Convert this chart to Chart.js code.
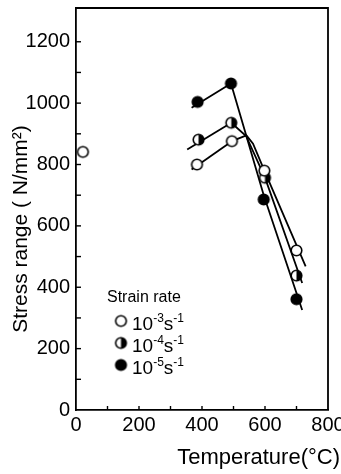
<!DOCTYPE html>
<html><head><meta charset="utf-8">
<script src="https://cdn.jsdelivr.net/npm/chart.js@4/dist/chart.umd.min.js"></script>
<style>html,body{margin:0;padding:0;background:#fff}</style>
</head><body>
<canvas id="c" width="341" height="474"></canvas>
<script>
// ---- data ----
const xTickValues = [0, 200, 400, 600, 800];
const yTickValues = [0, 200, 400, 600, 800, 1000, 1200];
const minorX = [100, 300, 500, 700];
const minorY = [100, 300, 500, 700, 900, 1100];

const seriesLabels = ['10-3', '10-4', '10-5'];

// 10^-3 s^-1 (open circles)
const tempOpen = [22, 384, 495, 598, 700];
const stressOpen = [841, 800, 876, 780, 520];
// 10^-4 s^-1 (half filled)
const tempHalf = [389, 493, 600, 700];
const stressHalf = [881, 936, 757, 438];
// 10^-5 s^-1 (filled)
const tempFilled = [386, 492, 596, 700];
const stressFilled = [1004, 1064, 686, 361];

// fitted lines
const fitOpenRiseT = [367, 495];
const fitOpenRiseS = [784, 876];
const fitOpenFallT = [495, 541, 562, 598, 729];
const fitOpenFallS = [876, 895, 868, 780, 468];
const fitHalfRiseT = [353, 493];
const fitHalfRiseS = [849, 936];
const fitHalfFallT = [493, 540, 600, 718];
const fitHalfFallS = [936, 893, 757, 414];
const fitFilledRiseT = [367, 492];
const fitFilledRiseS = [985, 1064];
const fitFilledFallT = [492, 596, 718];
const fitFilledFallS = [1064, 700, 326];

const pts = (xs, ys) => xs.map((x, i) => ({x: x, y: ys[i]}));

const FONT = '"Liberation Sans", Arial, sans-serif';

function makeMarker(kind, r, lw) {
  const size = Math.ceil(2 * r + lw + 2);
  const c = document.createElement('canvas');
  c.width = c.height = size;
  const g = c.getContext('2d');
  const m = size / 2;
  g.beginPath(); g.arc(m, m, r, 0, 2 * Math.PI);
  g.fillStyle = kind === 'filled' ? '#000' : '#fff'; g.fill();
  if (kind === 'half') {
    g.beginPath(); g.moveTo(m, m - r); g.arc(m, m, r, -Math.PI / 2, Math.PI / 2); g.closePath();
    g.fillStyle = '#000'; g.fill();
  }
  g.lineWidth = lw; g.strokeStyle = '#000';
  g.beginPath(); g.arc(m, m, r, 0, 2 * Math.PI); g.stroke();
  return c;
}
const mOpen = makeMarker('open', 5.3, 1.6);
const mHalf = makeMarker('half', 5.3, 1.6);
const mFilled = makeMarker('filled', 5.3, 1.6);

function lineDs(xs, ys) {
  return {type: 'scatter', data: pts(xs, ys), showLine: true, pointRadius: 0,
    borderColor: '#000', borderWidth: 1.8, fill: false, tension: 0};
}

const framePlugin = {
  id: 'frame',
  beforeDatasetsDraw(chart) {
    const {ctx, chartArea: a, scales: {x, y}} = chart;
    ctx.save();
    ctx.strokeStyle = '#000'; ctx.lineWidth = 1.8;
    ctx.beginPath();
    ctx.moveTo(a.left, a.top); ctx.lineTo(a.right, a.top); ctx.lineTo(a.right, a.bottom);
    ctx.stroke();
    ctx.lineWidth = 1.4;
    const xt = xTickValues.concat(minorX).filter(v => v > 0 && v < 800);
    xt.forEach(v => { const px = x.getPixelForValue(v); ctx.beginPath(); ctx.moveTo(px, a.bottom); ctx.lineTo(px, a.bottom - 4); ctx.stroke(); });
    const yt = yTickValues.concat(minorY).filter(v => v > 0);
    yt.forEach(v => { const py = y.getPixelForValue(v); ctx.beginPath(); ctx.moveTo(a.left, py); ctx.lineTo(a.left + 5, py); ctx.stroke(); });
    ctx.restore();
  },
  afterDraw(chart) {
    const {ctx} = chart;
    ctx.save();
    ctx.fillStyle = '#000';
    // axis titles
    ctx.textAlign = 'right'; ctx.textBaseline = 'alphabetic';
    ctx.font = '22px ' + FONT;
    ctx.fillText('Temperature(°C)', 340, 464);
    ctx.save();
    ctx.translate(21, 229); ctx.rotate(-Math.PI / 2);
    ctx.textAlign = 'center'; ctx.textBaseline = 'middle';
    ctx.font = '21px ' + FONT;
    ctx.fillText('Stress range ( N/mm²)', 0, 0);
    ctx.restore();
    // legend
    ctx.textAlign = 'left'; ctx.textBaseline = 'alphabetic';
    ctx.font = '16px ' + FONT;
    ctx.fillText('Strain rate', 107, 302);
    const markers = [mOpen, mHalf, mFilled];
    const baselines = [330, 352, 374];
    const exps = ['-3', '-4', '-5'];
    markers.forEach((m, i) => {
      const b = baselines[i];
      ctx.drawImage(m, 121 - m.width / 2, b - 9 - m.height / 2);
      let xx = 132;
      ctx.font = '19px ' + FONT; ctx.fillText('10', xx, b); xx += ctx.measureText('10').width;
      ctx.font = '12px ' + FONT; ctx.fillText(exps[i], xx, b - 8); xx += ctx.measureText(exps[i]).width;
      ctx.font = '19px ' + FONT; ctx.fillText('s', xx, b); xx += ctx.measureText('s').width;
      ctx.font = '12px ' + FONT; ctx.fillText('-1', xx, b - 8);
    });
    ctx.restore();
  }
};

new Chart(document.getElementById('c'), {
  type: 'scatter',
  data: {
    datasets: [
      {label: seriesLabels[0], data: pts(tempOpen, stressOpen), pointStyle: mOpen, pointRadius: 6, showLine: false},
      {label: seriesLabels[1], data: pts(tempHalf, stressHalf), pointStyle: mHalf, pointRadius: 6, showLine: false},
      {label: seriesLabels[2], data: pts(tempFilled, stressFilled), pointStyle: mFilled, pointRadius: 6, showLine: false},
      lineDs(fitOpenRiseT, fitOpenRiseS),
      lineDs(fitOpenFallT, fitOpenFallS),
      lineDs(fitHalfRiseT, fitHalfRiseS),
      lineDs(fitHalfFallT, fitHalfFallS),
      lineDs(fitFilledRiseT, fitFilledRiseS),
      lineDs(fitFilledFallT, fitFilledFallS)
    ]
  },
  options: {
    responsive: false, devicePixelRatio: 1, animation: false,
    layout: {padding: {top: 8, right: 13, left: 0, bottom: 0}},
    plugins: {legend: {display: false}, tooltip: {enabled: false}},
    scales: {
      x: {
        type: 'linear', min: 0, max: 800,
        afterBuildTicks: s => { s.ticks = xTickValues.map(v => ({value: v})); },
        ticks: {color: '#000', font: {family: FONT, size: 20}, padding: 3, maxRotation: 0, autoSkip: false,
          callback: v => String(v)},
        grid: {display: false, drawTicks: false},
        border: {display: true, color: '#000', width: 1.8},
        title: {display: false},
        afterFit: s => { s.height = 64; s.paddingLeft = 0; s.paddingRight = 0; }
      },
      y: {
        type: 'linear', min: 0, max: 1310,
        afterBuildTicks: s => { s.ticks = yTickValues.map(v => ({value: v})); },
        ticks: {color: '#000', font: {family: FONT, size: 20}, padding: 6, callback: v => String(v)},
        grid: {display: false, drawTicks: false},
        border: {display: true, color: '#000', width: 1.8},
        title: {display: false},
        afterFit: s => { s.width = 76; s.paddingTop = 0; s.paddingBottom = 0; }
      }
    }
  },
  plugins: [framePlugin]
});
</script>
</body></html>
